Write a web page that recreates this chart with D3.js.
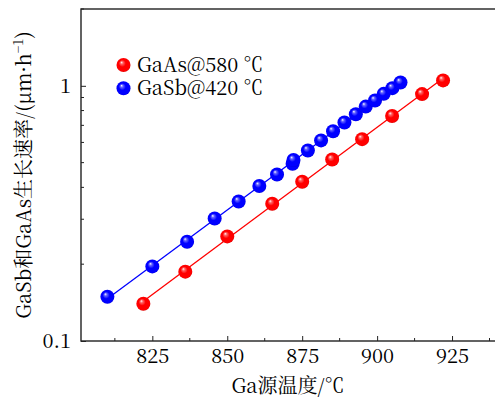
<!DOCTYPE html>
<html>
<head>
<meta charset="utf-8">
<script src="https://cdn.jsdelivr.net/npm/d3@7"></script>
<style>
  body { margin: 0; background: #fff; }
</style>
</head>
<body>
<div id="chart"></div>
<script>
// growth rate vs Ga cell temperature
const gaasTemp = [822, 836, 850, 865, 875, 885, 895, 905, 915, 922];
const gaasRate = [0.140, 0.187, 0.257, 0.345, 0.421, 0.514, 0.618, 0.762, 0.928, 1.05];
const gasbTemp = [810, 825, 836.6, 845.8, 853.8, 860.7, 866.6, 871.8, 872.1, 876.9, 881.3, 885.3, 889.1, 892.9, 896.2, 899.3, 902.2, 905.1, 907.8];
const gasbRate = [0.149, 0.196, 0.245, 0.302, 0.352, 0.405, 0.449, 0.495, 0.512, 0.558, 0.611, 0.664, 0.718, 0.774, 0.829, 0.876, 0.930, 0.979, 1.03];
const xTicks = [825, 850, 875, 900, 925];
const xMinor = [812.5, 837.5, 862.5, 887.5, 912.5, 937.5];
const yTicks = [0.1, 1];
const yTickLabels = ["0.1", "1"];
const yMinor = [0.2, 0.3, 0.4, 0.5, 0.6, 0.7, 0.8, 0.9, 2];
const seriesNames = ["GaAs@580 \u2103", "GaSb@420 \u2103"];
const seriesColors = ["#ff0000", "#0000ff"];

const FONT = "'Noto Serif CJK SC', 'Liberation Serif'";
const FS = 20;
const w = 495, h = 399;
const mLeft = 81, mTop = 9, mBottom = 341, mRight = 497;

const x = d3.scaleLinear().domain([801.2, 940]).range([mLeft, mRight]);
const y = d3.scaleLog().domain([0.1, 2]).range([mBottom, mTop]);

const svg = d3.select("#chart").append("svg")
  .attr("width", w).attr("height", h)
  .attr("font-family", FONT);

// ball gradients
const defs = svg.append("defs");
seriesColors.forEach(function(c, i) {
  const g = defs.append("radialGradient").attr("id", "ball" + i)
    .attr("cx", "50%").attr("cy", "50%").attr("r", "55%")
    .attr("fx", "35%").attr("fy", "30%");
  const dark = d3.color(c).darker(0.8);
  g.append("stop").attr("offset", "0%").attr("stop-color", "#ffffff");
  g.append("stop").attr("offset", "18%").attr("stop-color", d3.interpolateRgb("#fff", c)(0.6));
  g.append("stop").attr("offset", "45%").attr("stop-color", c);
  g.append("stop").attr("offset", "85%").attr("stop-color", c);
  g.append("stop").attr("offset", "100%").attr("stop-color", dark);
});

// frame
svg.append("rect")
  .attr("x", mLeft).attr("y", mTop)
  .attr("width", mRight - mLeft).attr("height", mBottom - mTop)
  .attr("fill", "none").attr("stroke", "#222").attr("stroke-width", 1.4);

// x axis
const xAxis = d3.axisBottom(x).tickValues(xTicks).tickSize(-5).tickPadding(8).tickFormat(d3.format("d"));
const gx = svg.append("g").attr("transform", "translate(0," + mBottom + ")").call(xAxis)
  .attr("font-family", FONT).attr("font-size", FS);
gx.select(".domain").remove();
gx.selectAll("line").attr("stroke", "#222").attr("stroke-width", 1);
svg.append("g").selectAll("line").data(xMinor).enter().append("line")
  .attr("x1", d => x(d)).attr("x2", d => x(d))
  .attr("y1", mBottom).attr("y2", mBottom - 3)
  .attr("stroke", "#222").attr("stroke-width", 1);

// y axis
const yAxis = d3.axisLeft(y).tickValues(yTicks).tickSize(-5).tickPadding(10)
  .tickFormat((d, i) => yTickLabels[i]);
const gy = svg.append("g").attr("transform", "translate(" + mLeft + ",0)").call(yAxis)
  .attr("font-family", FONT).attr("font-size", FS);
gy.select(".domain").remove();
gy.selectAll("line").attr("stroke", "#222").attr("stroke-width", 1);
svg.append("g").selectAll("line").data(yMinor).enter().append("line")
  .attr("x1", mLeft).attr("x2", mLeft + 3)
  .attr("y1", d => y(d)).attr("y2", d => y(d))
  .attr("stroke", "#222").attr("stroke-width", 1);

// fitted lines (least squares in log space)
function fit(xs, ys) {
  const ly = ys.map(v => Math.log10(v));
  const mx = d3.mean(xs), my = d3.mean(ly);
  let sxy = 0, sxx = 0;
  xs.forEach((v, i) => { sxy += (v - mx) * (ly[i] - my); sxx += (v - mx) * (v - mx); });
  const b = sxy / sxx, a = my - b * mx;
  const x0 = d3.min(xs), x1 = d3.max(xs);
  return [[x0, Math.pow(10, a + b * x0)], [x1, Math.pow(10, a + b * x1)]];
}
const series = [[gaasTemp, gaasRate], [gasbTemp, gasbRate]];
const line = d3.line().x(d => x(d[0])).y(d => y(d[1]));
series.forEach(function(s, i) {
  svg.append("path").datum(fit(s[0], s[1]))
    .attr("d", line).attr("fill", "none")
    .attr("stroke", seriesColors[i]).attr("stroke-width", 1.3);
});
series.forEach(function(s, i) {
  svg.append("g").selectAll("circle").data(s[0]).enter().append("circle")
    .attr("cx", d => x(d)).attr("cy", (d, j) => y(s[1][j]))
    .attr("r", 7).attr("fill", "url(#ball" + i + ")");
});

// legend
const leg = svg.append("g");
seriesNames.forEach(function(n, i) {
  leg.append("circle").attr("cx", 123.5).attr("cy", 65 + i * 23.3).attr("r", 7)
    .attr("fill", "url(#ball" + i + ")");
  leg.append("text").attr("x", 137).attr("y", 71.5 + i * 23.3)
    .attr("font-size", FS).text(n);
});

// axis titles
svg.append("text").attr("x", 288).attr("y", 393).attr("text-anchor", "middle")
  .attr("font-size", FS).text("Ga源温度/\u2103");
const yt = svg.append("text").attr("transform", "translate(31,175) rotate(-90)")
  .attr("text-anchor", "middle").attr("font-size", FS);
yt.append("tspan").text("GaSb和GaAs生长速率/(μm·h");
yt.append("tspan").attr("font-size", 13).attr("dy", -8).text("\u22121");
yt.append("tspan").attr("dy", 8).text(")");
</script>
</body>
</html>
